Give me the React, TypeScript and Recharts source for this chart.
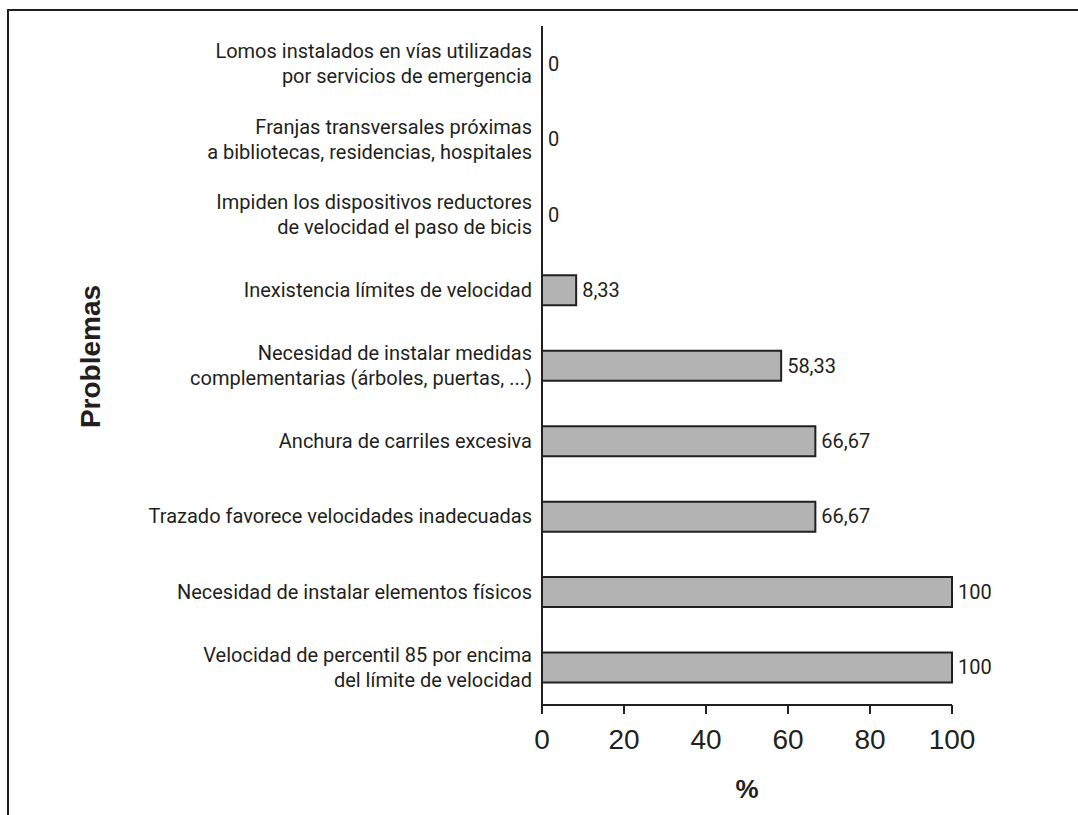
import { ComposedChart, Bar, Line, XAxis, YAxis, LabelList } from "recharts";

const problems = [
  "Lomos instalados en vías utilizadas\npor servicios de emergencia",
  "Franjas transversales próximas\na bibliotecas, residencias, hospitales",
  "Impiden los dispositivos reductores\nde velocidad el paso de bicis",
  "Inexistencia límites de velocidad",
  "Necesidad de instalar medidas\ncomplementarias (árboles, puertas, ...)",
  "Anchura de carriles excesiva",
  "Trazado favorece velocidades inadecuadas",
  "Necesidad de instalar elementos físicos",
  "Velocidad de percentil 85 por encima\ndel límite de velocidad",
];

const percentages = [0, 0, 0, 8.33, 58.33, 66.67, 66.67, 100, 100];

const xTicks = [0, 20, 40, 60, 80, 100];

const data = problems.map((name, i) => ({ name, value: percentages[i] }));

const INK = "#231f20";
const LABEL_FONT = "Roboto, 'Liberation Sans', sans-serif";
const TICK_FONT = "'Liberation Sans', Arial, sans-serif";

function ProblemTick(props: any) {
  const { x, y, payload } = props;
  const lines = String(payload.value).split("\n");
  const lineH = 25;
  return (
    <text
      x={x}
      y={y}
      textAnchor="end"
      fontFamily={LABEL_FONT}
      fontSize={20}
      fill={INK}
    >
      {lines.map((line, i) => (
        <tspan key={i} x={x} y={y + (i - (lines.length - 1) / 2) * lineH + 7}>
          {line}
        </tspan>
      ))}
    </text>
  );
}

// value text sits just right of the bar end (line point = bar end, row centre)
function ValueLabel(props: any) {
  const { x, y, value } = props;
  if (value === undefined || value === null) return null;
  return (
    <text
      x={Number(x) + 6}
      y={Number(y) + 7}
      textAnchor="start"
      fontFamily={LABEL_FONT}
      fontSize={20}
      fill={INK}
    >
      {String(value).replace(".", ",")}
    </text>
  );
}

export default function App() {
  return (
    <div
      style={{
        position: "fixed",
        left: 0,
        top: 0,
        width: 1078,
        height: 815,
        overflow: "hidden",
        background: "#fff",
      }}
    >
      <div
        style={{
          position: "absolute",
          left: 7,
          top: 9,
          width: 1100,
          height: 900,
          borderLeft: `2px solid ${INK}`,
          borderTop: `2px solid ${INK}`,
        }}
      />
      <div style={{ position: "absolute", left: 0, top: 0 }}>
        <ComposedChart
          width={1078}
          height={815}
          data={data}
          layout="vertical"
          margin={{ top: 26, right: 126, bottom: 0, left: 0 }}
          barSize={30}
        >
          <XAxis
            type="number"
            domain={[0, 100]}
            ticks={xTicks}
            height={110}
            interval={0}
            tickSize={9}
            tickMargin={15}
            stroke={INK}
            axisLine={{ stroke: INK, strokeWidth: 2 }}
            tickLine={{ stroke: INK, strokeWidth: 2 }}
            tick={{ fill: INK, fontSize: 28, fontFamily: TICK_FONT }}
            label={{
              content: (p: any) => {
                const vb = p.viewBox || { x: 542, y: 705, width: 410 };
                return (
                  <text
                    x={vb.x + vb.width / 2}
                    y={vb.y + 93}
                    textAnchor="middle"
                    fontFamily={TICK_FONT}
                    fontWeight="bold"
                    fontSize={26}
                    fill={INK}
                  >
                    %
                  </text>
                );
              },
            }}
          />
          <YAxis
            type="category"
            dataKey="name"
            width={542}
            interval={0}
            tickSize={0}
            tickMargin={10}
            tickLine={false}
            axisLine={{ stroke: INK, strokeWidth: 2 }}
            tick={<ProblemTick />}
            label={{
              content: (p: any) => {
                const vb = p.viewBox || { x: 0, y: 26, height: 679 };
                const cx = 90;
                const cy = vb.y + vb.height / 2 - 9;
                return (
                  <text
                    x={cx}
                    y={cy}
                    transform={`rotate(-90 ${cx} ${cy})`}
                    textAnchor="middle"
                    dominantBaseline="central"
                    fontFamily={TICK_FONT}
                    fontWeight="bold"
                    fontSize={28}
                    fill={INK}
                  >
                    Problemas
                  </text>
                );
              },
            }}
          />
          <Bar
            dataKey="value"
            fill="#b3b3b3"
            stroke={INK}
            strokeWidth={2}
            isAnimationActive={false}
          />
          <Line
            dataKey="value"
            stroke="none"
            dot={false}
            activeDot={false}
            isAnimationActive={false}
          >
            <LabelList dataKey="value" content={<ValueLabel />} />
          </Line>
        </ComposedChart>
      </div>
    </div>
  );
}
